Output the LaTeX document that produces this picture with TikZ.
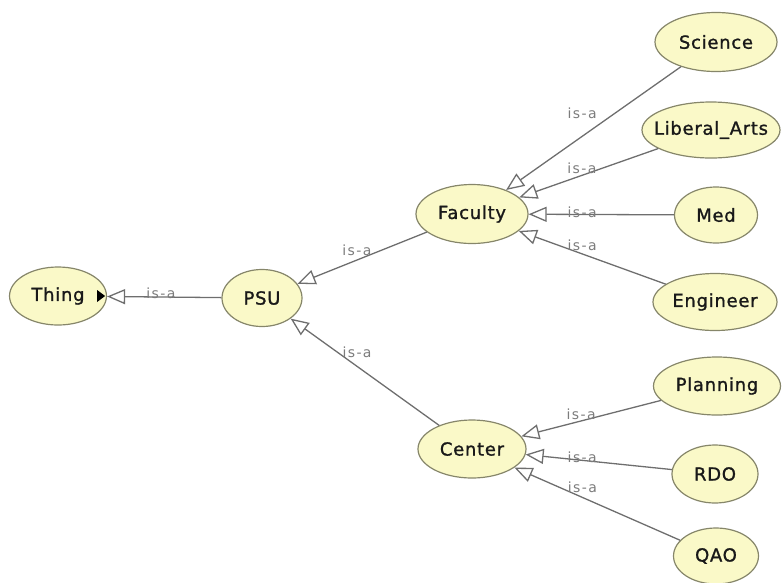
\documentclass[tikz,border=0pt]{standalone}
\usepackage{fontspec}
\setmainfont{DejaVu Sans}
\newfontfamily\classfont[LetterSpace=4, FakeBold=1.2]{DejaVu Sans}
\newfontfamily\isafont[LetterSpace=10]{DejaVu Sans}
\usetikzlibrary{shapes.geometric, arrows.meta}
\definecolor{classfill}{HTML}{FAF9C8}
\definecolor{classline}{HTML}{86866A}
\definecolor{isaline}{HTML}{6E6E6E}
\definecolor{isatext}{HTML}{7C7C7C}
\tikzstyle{cls} =[ellipse, draw=classline, fill=classfill, line width=1.2pt, inner sep=0pt, minimum height=57pt, text=black!90, font=\classfont\fontsize{18}{20}\selectfont]
\tikzstyle{isa} =[draw=isaline, line width=1.3pt, -{Triangle[open, length=18pt, width=15pt]}]
\tikzstyle{lab} =[inner sep=0pt, text=isatext, font=\isafont\fontsize{14}{16}\selectfont]

\begin{document}
\begin{tikzpicture}[x=1pt, y=-1pt]
\useasboundingbox (0,0) rectangle (782,582);
\node (thing) [cls, minimum width=97pt, minimum height=58pt] at (58,296) {Thing};
\node (psu) [cls, minimum width=80pt] at (262,298) {PSU};
\node (faculty) [cls, minimum width=112pt, minimum height=59pt] at (472,214) {Faculty};
\node (center) [cls, minimum width=108pt, minimum height=58pt] at (472,449) {Center};
\node (science) [cls, minimum width=122pt, minimum height=59pt] at (716,42) {Science};
\node (libarts) [cls, minimum width=138pt, minimum height=56pt, inner xsep=-9pt] at (711,130) {Liberal\_Arts};
\node (med) [cls, minimum width=83pt, minimum height=56pt] at (716,215) {Med};
\node (engineer) [cls, minimum width=124pt] at (715,302) {Engineer};
\node (planning) [cls, minimum width=127pt, minimum height=58pt] at (717,386) {Planning};
\node (rdo) [cls, minimum width=86pt, minimum height=58pt] at (715,474) {RDO};
\node (qao) [cls, minimum width=85pt, minimum height=56pt] at (716,556) {QAO};
\fill (thing.east) ++(-10,-6) -- ++(8,6) -- ++(-8,6) -- cycle;
\draw [isa] (psu) -- node[lab, pos=0.53, yshift=4pt]{is-a} (thing);
\draw [isa] (faculty) -- node[lab, pos=0.54, yshift=10pt]{is-a} (psu);
\draw [isa] (center) -- node[lab, pos=0.553, yshift=14pt]{is-a} (psu);
\draw [isa] (science) -- node[lab, pos=0.565, yshift=23pt]{is-a} (faculty);
\draw [isa] (libarts) -- node[lab, pos=0.549, yshift=7pt]{is-a} (faculty);
\draw [isa] (med) -- node[lab, pos=0.632, yshift=2.5pt]{is-a} (faculty);
\draw [isa] (engineer) -- node[lab, pos=0.569, yshift=9pt]{is-a} (faculty);
\draw [isa] (planning) -- node[lab, pos=0.572, yshift=7pt]{is-a} (center);
\draw [isa] (rdo) -- node[lab, pos=0.613, yshift=3pt]{is-a} (center);
\draw [isa] (qao) -- node[lab, pos=0.59, yshift=10pt]{is-a} (center);
\end{tikzpicture}
\end{document}
